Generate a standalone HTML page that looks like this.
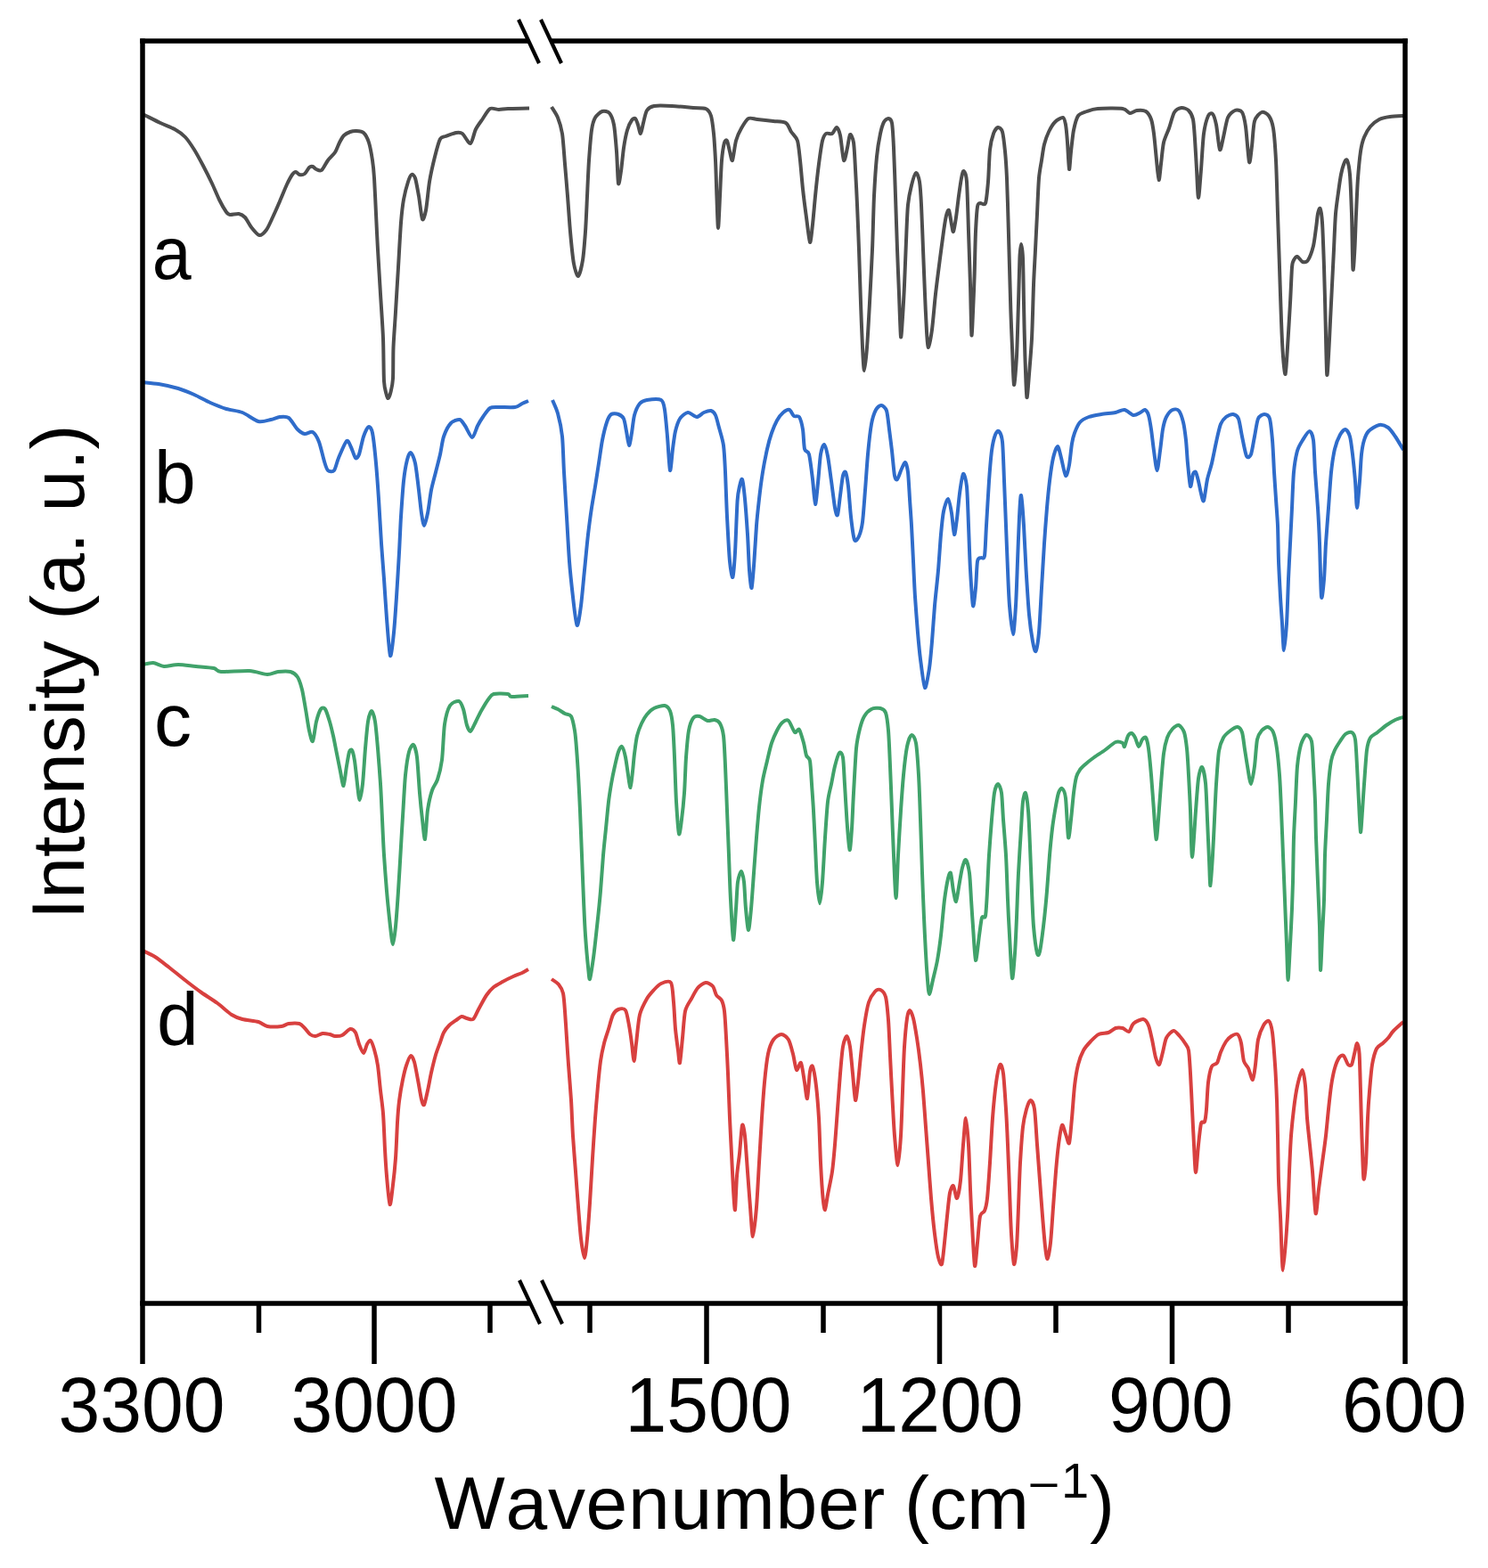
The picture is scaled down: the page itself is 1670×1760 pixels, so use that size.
<!DOCTYPE html><html><head><meta charset="utf-8"><title>IR spectra</title>
<style>html,body{margin:0;padding:0;background:#fff;}svg{display:block;}text{font-family:"Liberation Sans",Arial,sans-serif;fill:#000;font-kerning:none;font-feature-settings:"kern" 0;}</style></head><body>
<svg width="1670" height="1760" viewBox="0 0 1670 1760">
<rect width="1670" height="1760" fill="#fff"/>
<g fill="none" stroke-width="4.0" stroke-linejoin="round" stroke-linecap="butt">
<path stroke="#4d4d4d" d="M160,128C162.7,129.3 175.2,135.7 180,138C184.8,140.3 192.3,142.9 196,145C199.7,147.1 205.1,150.9 208,154C210.9,157.1 215.3,163.7 218,168C220.7,172.3 225.3,180.9 228,186C230.7,191.1 235.6,200.9 238,206C240.4,211.1 243.9,219.7 246,224C248.1,228.3 252.4,235.7 254,238C255.6,240.3 256.1,240.7 258,241C259.9,241.3 265.7,239.6 268,240C270.3,240.4 273.1,242.0 275,244C276.9,246.0 279.9,252.3 282,255C284.1,257.7 288.7,263.6 291,264C293.3,264.4 297.0,260.7 299,258C301.0,255.3 304.0,248.3 306,244C308.0,239.7 311.9,230.9 314,226C316.1,221.1 320.1,211.0 322,207C323.9,203.0 326.7,197.9 328,196C329.3,194.1 330.9,193.0 332,193C333.1,193.0 334.7,195.7 336,196C337.3,196.3 340.5,196.1 342,195C343.5,193.9 345.8,189.1 347,188C348.2,186.9 349.9,186.7 351,187C352.1,187.3 353.7,189.5 355,190C356.3,190.5 359.3,192.3 361,191C362.7,189.7 366.0,182.7 368,180C370.0,177.3 374.3,173.7 376,171C377.7,168.3 379.7,162.5 381,160C382.3,157.5 384.4,153.6 386,152C387.6,150.4 391.1,148.7 393,148C394.9,147.3 398.0,146.9 400,147C402.0,147.1 406.1,147.3 408,149C409.9,150.7 412.7,155.9 414,160C415.3,164.1 417.2,174.7 418,180C418.8,185.3 419.5,192.0 420,200C420.5,208.0 421.5,229.3 422,240C422.5,250.7 423.3,268.0 424,280C424.7,292.0 426.2,316.7 427,330C427.8,343.3 429.5,366.9 430,380C430.5,393.1 430.5,419.7 431,428C431.5,436.3 432.9,439.5 433.5,442C434.1,444.5 435.0,447.3 435.7,447C436.4,446.7 437.8,442.9 438.5,440C439.2,437.1 440.6,431.7 441,425C441.4,418.3 441.1,400.0 441.5,390C441.9,380.0 443.3,362.0 444,350C444.7,338.0 446.2,313.3 447,300C447.8,286.7 449.2,260.1 450,250C450.8,239.9 451.9,230.1 453,224C454.1,217.9 456.8,207.7 458,204C459.2,200.3 460.9,196.5 462,196C463.1,195.5 464.9,196.8 466,200C467.1,203.2 468.9,213.9 470,220C471.1,226.1 472.9,243.9 474,246C475.1,248.1 476.9,241.6 478,236C479.1,230.4 480.7,212.0 482,204C483.3,196.0 486.4,182.4 488,176C489.6,169.6 492.4,159.1 494,156C495.6,152.9 497.6,153.9 500,153C502.4,152.1 509.5,149.4 512,149C514.5,148.6 516.9,148.4 519,150C521.1,151.6 526.0,161.7 528,161C530.0,160.3 532.1,148.7 534,145C535.9,141.3 539.9,136.1 542,133C544.1,129.9 547.6,123.3 550,122C552.4,120.7 557.3,123.0 560,123C562.7,123.0 565.5,122.2 570,122C574.5,121.8 590.8,121.7 594,121.6"/>
<path stroke="#4d4d4d" d="M619,120C619.9,121.6 624.4,128.0 626,132C627.6,136.0 629.9,143.1 631,150C632.1,156.9 633.2,174.7 634,184C634.8,193.3 636.2,209.9 637,220C637.8,230.1 639.1,249.9 640,260C640.9,270.1 642.8,289.3 644,296C645.2,302.7 647.7,310.5 649,310C650.3,309.5 652.9,298.7 654,292C655.1,285.3 656.3,269.6 657,260C657.7,250.4 658.5,230.7 659,220C659.5,209.3 660.3,189.9 661,180C661.7,170.1 663.1,152.4 664,146C664.9,139.6 666.4,134.8 668,132C669.6,129.2 673.9,125.7 676,125C678.1,124.3 682.3,125.0 684,127C685.7,129.0 687.9,134.3 689,140C690.1,145.7 691.3,161.2 692,170C692.7,178.8 693.3,203.1 694,206C694.7,208.9 696.2,197.3 697,192C697.8,186.7 699.1,172.1 700,166C700.9,159.9 702.8,150.1 704,146C705.2,141.9 707.8,136.7 709,135C710.2,133.3 712.1,132.3 713,133C713.9,133.7 715.2,137.7 716,140C716.8,142.3 718.2,150.3 719,150C719.8,149.7 721.1,141.5 722,138C722.9,134.5 724.4,126.5 726,124C727.6,121.5 730.3,119.7 734,119C737.7,118.3 748.1,118.7 754,119C759.9,119.3 772.9,120.6 778,121C783.1,121.4 789.3,120.8 792,122C794.7,123.2 796.8,126.3 798,130C799.2,133.7 800.3,143.3 801,150C801.7,156.7 802.5,170.7 803,180C803.5,189.3 804.0,209.9 804.4,220C804.8,230.1 805.5,256.0 806,256C806.5,256.0 807.5,230.1 808,220C808.5,209.9 809.3,188.0 810,180C810.7,172.0 812.2,162.9 813,160C813.8,157.1 815.2,156.7 816,158C816.8,159.3 818.2,167.1 819,170C819.8,172.9 821.1,181.6 822,180C822.9,178.4 824.7,162.8 826,158C827.3,153.2 830.1,147.3 832,144C833.9,140.7 837.6,134.3 840,133C842.4,131.7 846.3,133.6 850,134C853.7,134.4 863.7,135.5 868,136C872.3,136.5 879.3,136.4 882,138C884.7,139.6 886.3,145.3 888,148C889.7,150.7 893.7,153.7 895,158C896.3,162.3 897.2,172.8 898,180C898.8,187.2 900.1,203.5 901,212C901.9,220.5 903.9,236.0 905,244C906.1,252.0 908.1,270.9 909,272C909.9,273.1 911.2,258.9 912,252C912.8,245.1 914.1,229.1 915,220C915.9,210.9 917.9,192.3 919,184C920.1,175.7 921.9,162.5 923,158C924.1,153.5 925.5,151.1 927,150C928.5,148.9 932.4,150.9 934,150C935.6,149.1 937.8,142.7 939,143C940.2,143.3 941.9,147.1 943,152C944.1,156.9 945.9,178.1 947,180C948.1,181.9 950.1,169.9 951,166C951.9,162.1 953.1,151.8 954,151C954.9,150.2 957.2,154.8 958,160C958.8,165.2 959.5,180.7 960,190C960.5,199.3 961.5,218.0 962,230C962.5,242.0 963.5,265.3 964,280C964.5,294.7 965.5,325.3 966,340C966.5,354.7 967.5,379.9 968,390C968.5,400.1 969.3,416.0 970,416C970.7,416.0 972.2,400.1 973,390C973.8,379.9 975.2,354.7 976,340C976.8,325.3 978.3,296.0 979,280C979.7,264.0 980.3,233.9 981,220C981.7,206.1 983.1,185.3 984,176C984.9,166.7 986.9,155.2 988,150C989.1,144.8 990.8,139.3 992,137C993.2,134.7 995.8,132.9 997,133C998.2,133.1 1000.2,133.6 1001,138C1001.8,142.4 1002.5,155.1 1003,166C1003.5,176.9 1004.5,204.8 1005,220C1005.5,235.2 1006.5,265.3 1007,280C1007.5,294.7 1008.5,316.9 1009,330C1009.5,343.1 1010.5,374.5 1011,378C1011.5,381.5 1012.5,363.7 1013,356C1013.5,348.3 1014.5,331.5 1015,320C1015.5,308.5 1016.5,282.0 1017,270C1017.5,258.0 1018.2,238.3 1019,230C1019.8,221.7 1021.8,212.8 1023,208C1024.2,203.2 1026.8,194.5 1028,194C1029.2,193.5 1031.2,199.2 1032,204C1032.8,208.8 1033.5,219.9 1034,230C1034.5,240.1 1035.5,266.7 1036,280C1036.5,293.3 1037.5,317.7 1038,330C1038.5,342.3 1039.5,364.0 1040,372C1040.5,380.0 1041.2,390.3 1042,390C1042.8,389.7 1044.9,378.0 1046,370C1047.1,362.0 1048.8,340.7 1050,330C1051.2,319.3 1053.8,299.3 1055,290C1056.2,280.7 1058.1,266.4 1059,260C1059.9,253.6 1061.2,245.2 1062,242C1062.8,238.8 1064.2,234.7 1065,236C1065.8,237.3 1067.3,248.8 1068,252C1068.7,255.2 1069.3,261.1 1070,260C1070.7,258.9 1072.2,249.3 1073,244C1073.8,238.7 1075.2,225.9 1076,220C1076.8,214.1 1078.3,203.7 1079,200C1079.7,196.3 1080.8,191.5 1081.6,192C1082.4,192.5 1084.3,194.9 1085,204C1085.7,213.1 1086.5,244.5 1087,260C1087.5,275.5 1088.5,304.5 1089,320C1089.5,335.5 1090.0,372.0 1090.4,376C1090.8,380.0 1091.6,358.8 1092,350C1092.4,341.2 1093.2,322.0 1093.6,310C1094.0,298.0 1094.5,270.4 1095,260C1095.5,249.6 1096.3,236.3 1097,232C1097.7,227.7 1098.8,228.5 1100,228C1101.2,227.5 1104.8,231.2 1106,228C1107.2,224.8 1108.3,212.0 1109,204C1109.7,196.0 1110.2,175.2 1111,168C1111.8,160.8 1113.8,153.3 1115,150C1116.2,146.7 1118.7,143.3 1120,143C1121.3,142.7 1123.9,144.4 1125,148C1126.1,151.6 1127.3,163.1 1128,170C1128.7,176.9 1129.5,189.3 1130,200C1130.5,210.7 1131.2,236.7 1131.6,250C1132.0,263.3 1132.6,286.7 1133,300C1133.4,313.3 1134.0,338.0 1134.4,350C1134.8,362.0 1135.5,379.1 1136,390C1136.5,400.9 1137.3,430.7 1138,432C1138.7,433.3 1140.3,412.3 1141,400C1141.7,387.7 1142.5,354.7 1143,340C1143.5,325.3 1144.0,298.8 1144.4,290C1144.8,281.2 1145.5,274.0 1146,274C1146.5,274.0 1147.6,281.2 1148,290C1148.4,298.8 1148.7,325.3 1149,340C1149.3,354.7 1149.9,385.9 1150.4,400C1150.9,414.1 1151.8,443.3 1152.4,446C1153.0,448.7 1154.3,428.8 1155,420C1155.7,411.2 1157.3,393.3 1158,380C1158.7,366.7 1159.5,333.3 1160,320C1160.5,306.7 1161.5,290.7 1162,280C1162.5,269.3 1163.5,250.7 1164,240C1164.5,229.3 1165.3,208.0 1166,200C1166.7,192.0 1168.2,185.1 1169,180C1169.8,174.9 1170.9,166.3 1172,162C1173.1,157.7 1175.4,151.3 1177,148C1178.6,144.7 1181.9,139.1 1184,137C1186.1,134.9 1191.4,131.6 1193,132C1194.6,132.4 1195.3,136.3 1196,140C1196.7,143.7 1197.5,153.3 1198,160C1198.5,166.7 1199.5,188.7 1200,190C1200.5,191.3 1201.3,175.9 1202,170C1202.7,164.1 1203.9,151.3 1205,146C1206.1,140.7 1208.0,132.8 1210,130C1212.0,127.2 1217.1,126.1 1220,125C1222.9,123.9 1226.7,122.4 1232,122C1237.3,121.6 1255.2,121.3 1260,122C1264.8,122.7 1265.9,126.7 1268,127C1270.1,127.3 1273.6,124.3 1276,124C1278.4,123.7 1283.9,123.7 1286,125C1288.1,126.3 1290.8,130.7 1292,134C1293.2,137.3 1294.2,143.9 1295,150C1295.8,156.1 1297.3,173.1 1298,180C1298.7,186.9 1299.9,201.5 1300.6,202C1301.3,202.5 1302.3,189.6 1303,184C1303.7,178.4 1304.8,165.3 1306,160C1307.2,154.7 1310.4,148.5 1312,144C1313.6,139.5 1316.1,129.1 1318,126C1319.9,122.9 1323.9,121.3 1326,121C1328.1,120.7 1332.3,122.3 1334,124C1335.7,125.7 1338.1,129.7 1339,134C1339.9,138.3 1340.5,148.5 1341,156C1341.5,163.5 1342.5,181.2 1343,190C1343.5,198.8 1344.3,222.0 1345,222C1345.7,222.0 1347.2,199.6 1348,190C1348.8,180.4 1349.9,158.0 1351,150C1352.1,142.0 1354.7,132.9 1356,130C1357.3,127.1 1359.8,126.7 1361,128C1362.2,129.3 1363.9,134.7 1365,140C1366.1,145.3 1367.9,166.1 1369,168C1370.1,169.9 1371.8,158.8 1373,154C1374.2,149.2 1376.3,136.0 1378,132C1379.7,128.0 1383.9,124.8 1386,124C1388.1,123.2 1392.4,123.6 1394,126C1395.6,128.4 1396.9,134.5 1398,142C1399.1,149.5 1401.1,179.1 1402,182C1402.9,184.9 1404.2,170.1 1405,164C1405.8,157.9 1406.5,141.1 1408,136C1409.5,130.9 1413.9,126.8 1416,126C1418.1,125.2 1422.3,127.6 1424,130C1425.7,132.4 1427.9,137.3 1429,144C1430.1,150.7 1431.3,167.2 1432,180C1432.7,192.8 1433.5,224.0 1434,240C1434.5,256.0 1435.5,284.0 1436,300C1436.5,316.0 1437.5,346.7 1438,360C1438.5,373.3 1439.4,392.0 1440,400C1440.6,408.0 1441.9,421.3 1442.6,420C1443.3,418.7 1444.3,400.7 1445,390C1445.7,379.3 1447.3,352.0 1448,340C1448.7,328.0 1449.5,306.4 1450,300C1450.5,293.6 1451.2,293.6 1452,292C1452.8,290.4 1454.7,287.7 1456,288C1457.3,288.3 1460.4,293.5 1462,294C1463.6,294.5 1466.4,294.4 1468,292C1469.6,289.6 1472.8,280.8 1474,276C1475.2,271.2 1476.3,260.8 1477,256C1477.7,251.2 1478.4,242.9 1479,240C1479.6,237.1 1480.9,232.7 1481.6,234C1482.3,235.3 1483.4,241.2 1484,250C1484.6,258.8 1485.5,285.3 1486,300C1486.5,314.7 1487.2,344.0 1487.6,360C1488.0,376.0 1488.7,414.7 1489.2,420C1489.7,425.3 1490.5,408.0 1491,400C1491.5,392.0 1492.5,370.7 1493,360C1493.5,349.3 1494.5,330.7 1495,320C1495.5,309.3 1496.5,290.7 1497,280C1497.5,269.3 1498.3,248.5 1499,240C1499.7,231.5 1501.2,221.9 1502,216C1502.8,210.1 1504.1,200.5 1505,196C1505.9,191.5 1508.1,184.1 1509,182C1509.9,179.9 1511.2,178.1 1512,180C1512.8,181.9 1514.3,188.0 1515,196C1515.7,204.0 1516.5,225.9 1517,240C1517.5,254.1 1517.9,296.7 1518.4,302C1518.9,307.3 1519.9,288.3 1520.4,280C1520.9,271.7 1521.5,250.7 1522,240C1522.5,229.3 1523.3,209.3 1524,200C1524.7,190.7 1526.1,176.1 1527,170C1527.9,163.9 1529.5,157.7 1531,154C1532.5,150.3 1535.7,144.7 1538,142C1540.3,139.3 1545.1,135.5 1548,134C1550.9,132.5 1556.4,131.5 1560,131C1563.6,130.5 1573.0,130.1 1575,130"/>
<path stroke="#2f6cca" d="M160,429C162.4,429.3 172.7,430.1 178,431C183.3,431.9 194.7,434.4 200,436C205.3,437.6 213.2,440.9 218,443C222.8,445.1 231.2,449.9 236,452C240.8,454.1 249.2,457.5 254,459C258.8,460.5 267.2,461.1 272,463C276.8,464.9 285.7,471.9 290,473C294.3,474.1 300.8,471.7 304,471C307.2,470.3 311.3,468.3 314,468C316.7,467.7 321.3,467.1 324,469C326.7,470.9 331.6,479.6 334,482C336.4,484.4 339.7,486.6 342,487C344.3,487.4 348.9,483.8 351,485C353.1,486.2 356.3,491.6 358,496C359.7,500.4 362.7,513.7 364,518C365.3,522.3 366.5,526.7 368,528C369.5,529.3 373.4,529.9 375,528C376.6,526.1 378.1,518.4 380,514C381.9,509.6 387.1,496.6 389,495C390.9,493.4 392.7,499.5 394,502C395.3,504.5 397.8,512.9 399,514C400.2,515.1 401.8,513.2 403,510C404.2,506.8 406.6,494.1 408,490C409.4,485.9 412.3,479.5 413.6,479C414.9,478.5 416.9,480.5 418,486C419.1,491.5 421.1,510.1 422,520C422.9,529.9 424.2,548.0 425,560C425.8,572.0 427.2,598.0 428,610C428.8,622.0 430.2,638.8 431,650C431.8,661.2 433.1,682.5 434,694C434.9,705.5 436.9,733.9 438,736C439.1,738.1 441.1,718.8 442,710C442.9,701.2 444.2,682.0 445,670C445.8,658.0 447.3,632.0 448,620C448.7,608.0 449.3,590.7 450,580C450.7,569.3 452.1,548.5 453,540C453.9,531.5 455.9,520.3 457,516C458.1,511.7 459.8,507.5 461,508C462.2,508.5 464.8,514.4 466,520C467.2,525.6 469.1,542.5 470,550C470.9,557.5 472.2,570.7 473,576C473.8,581.3 475.1,590.0 476,590C476.9,590.0 478.9,581.3 480,576C481.1,570.7 482.8,556.1 484,550C485.2,543.9 487.7,535.3 489,530C490.3,524.7 492.8,515.3 494,510C495.2,504.7 496.4,494.7 498,490C499.6,485.3 503.6,477.5 506,475C508.4,472.5 513.9,470.6 516,471C518.1,471.4 520.1,475.3 522,478C523.9,480.7 528.1,491.0 530,491C531.9,491.0 534.4,481.1 536,478C537.6,474.9 540.1,470.7 542,468C543.9,465.3 547.6,459.5 550,458C552.4,456.5 556.3,457.1 560,457C563.7,456.9 574.5,457.5 578,457C581.5,456.5 584.0,453.9 586,453C588.0,452.1 592.1,450.4 593,450"/>
<path stroke="#2f6cca" d="M620,449C620.8,451.0 624.5,458.5 626,464C627.5,469.5 630.1,481.2 631,490C631.9,498.8 632.3,518.0 633,530C633.7,542.0 635.2,566.7 636,580C636.8,593.3 638.1,618.0 639,630C639.9,642.0 641.9,660.4 643,670C644.1,679.6 646.4,700.7 647.6,702C648.8,703.3 650.9,688.3 652,680C653.1,671.7 654.9,650.7 656,640C657.1,629.3 658.9,609.3 660,600C661.1,590.7 662.9,577.2 664,570C665.1,562.8 666.9,552.7 668,546C669.1,539.3 670.9,526.9 672,520C673.1,513.1 674.8,500.1 676,494C677.2,487.9 679.7,477.9 681,474C682.3,470.1 684.3,466.2 686,465C687.7,463.8 692.1,464.3 694,465C695.9,465.7 698.8,467.5 700,470C701.2,472.5 702.2,480.0 703,484C703.8,488.0 705.2,499.7 706,500C706.8,500.3 708.2,490.5 709,486C709.8,481.5 710.8,470.4 712,466C713.2,461.6 716.1,455.3 718,453C719.9,450.7 722.8,449.5 726,449C729.2,448.5 739.3,447.5 742,449C744.7,450.5 745.1,454.5 746,460C746.9,465.5 748.2,480.9 749,490C749.8,499.1 751.2,526.1 752,528C752.8,529.9 754.2,509.9 755,504C755.8,498.1 756.9,488.5 758,484C759.1,479.5 761.1,472.8 763,470C764.9,467.2 769.5,463.3 772,463C774.5,462.7 779.6,468.0 782,468C784.4,468.0 787.9,463.9 790,463C792.1,462.1 796.3,460.6 798,461C799.7,461.4 801.8,463.5 803,466C804.2,468.5 805.8,475.5 807,480C808.2,484.5 811.1,493.3 812,500C812.9,506.7 813.5,519.3 814,530C814.5,540.7 815.3,566.7 816,580C816.7,593.3 818.1,620.9 819,630C819.9,639.1 821.6,649.3 822.4,648C823.2,646.7 824.3,631.5 825,620C825.7,608.5 826.9,571.9 827.6,562C828.3,552.1 829.3,549.2 830,546C830.7,542.8 832.2,536.1 833,538C833.8,539.9 835.2,551.7 836,560C836.8,568.3 838.3,589.3 839,600C839.7,610.7 840.4,632.0 841,640C841.6,648.0 842.9,661.3 843.6,660C844.3,658.7 845.7,639.3 846.4,630C847.1,620.7 848.3,599.3 849,590C849.7,580.7 851.1,568.0 852,560C852.9,552.0 854.8,537.5 856,530C857.2,522.5 859.7,509.9 861,504C862.3,498.1 864.5,490.3 866,486C867.5,481.7 870.3,475.1 872,472C873.7,468.9 877.1,464.6 879,463C880.9,461.4 884.4,459.5 886,460C887.6,460.5 889.5,465.9 891,467C892.5,468.1 895.7,466.0 897,468C898.3,470.0 900.2,477.2 901,482C901.8,486.8 902.1,500.3 903,504C903.9,507.7 906.8,505.5 908,510C909.2,514.5 911.1,530.5 912,538C912.9,545.5 914.2,565.5 915,566C915.8,566.5 917.2,549.5 918,542C918.8,534.5 920.1,515.7 921,510C921.9,504.3 923.9,498.7 925,499C926.1,499.3 927.9,506.5 929,512C930.1,517.5 931.9,532.3 933,540C934.1,547.7 936.1,564.9 937,570C937.9,575.1 939.2,579.9 940,578C940.8,576.1 942.2,561.9 943,556C943.8,550.1 945.2,537.5 946,534C946.8,530.5 948.2,528.4 949,530C949.8,531.6 951.2,539.3 952,546C952.8,552.7 954.1,572.0 955,580C955.9,588.0 957.8,603.1 959,606C960.2,608.9 962.8,604.7 964,602C965.2,599.3 967.1,592.9 968,586C968.9,579.1 970.2,560.1 971,550C971.8,539.9 973.1,519.9 974,510C974.9,500.1 976.8,482.7 978,476C979.2,469.3 981.5,462.8 983,460C984.5,457.2 987.4,454.9 989,455C990.6,455.1 993.8,457.4 995,461C996.2,464.6 997.2,476.0 998,482C998.8,488.0 1000.2,499.1 1001,506C1001.8,512.9 1003.2,529.7 1004,534C1004.8,538.3 1005.9,539.1 1007,538C1008.1,536.9 1010.8,528.5 1012,526C1013.2,523.5 1015.1,518.5 1016,519C1016.9,519.5 1018.3,524.5 1019,530C1019.7,535.5 1020.5,552.0 1021,560C1021.5,568.0 1022.5,580.7 1023,590C1023.5,599.3 1024.5,619.3 1025,630C1025.5,640.7 1026.3,659.3 1027,670C1027.7,680.7 1029.2,700.7 1030,710C1030.8,719.3 1031.9,731.7 1033,740C1034.1,748.3 1036.7,770.7 1038,772C1039.3,773.3 1041.9,756.9 1043,750C1044.1,743.1 1045.2,729.3 1046,720C1046.8,710.7 1048.1,690.7 1049,680C1049.9,669.3 1052.1,650.7 1053,640C1053.9,629.3 1055.2,608.8 1056,600C1056.8,591.2 1057.9,579.3 1059,574C1060.1,568.7 1062.8,559.7 1064,560C1065.2,560.3 1067.1,570.7 1068,576C1068.9,581.3 1070.2,599.2 1071,600C1071.8,600.8 1073.2,588.1 1074,582C1074.8,575.9 1076.1,560.7 1077,554C1077.9,547.3 1079.9,533.1 1081,532C1082.1,530.9 1084.2,538.3 1085,546C1085.8,553.7 1086.5,577.5 1087,590C1087.5,602.5 1088.3,628.0 1089,640C1089.7,652.0 1091.2,677.3 1092,680C1092.8,682.7 1094.3,666.7 1095,660C1095.7,653.3 1096.2,634.5 1097,630C1097.8,625.5 1099.9,626.8 1101,626C1102.1,625.2 1104.2,628.8 1105,624C1105.8,619.2 1106.3,601.2 1107,590C1107.7,578.8 1109.2,551.2 1110,540C1110.8,528.8 1112.1,512.9 1113,506C1113.9,499.1 1115.9,490.9 1117,488C1118.1,485.1 1119.9,482.9 1121,484C1122.1,485.1 1124.2,488.5 1125,496C1125.8,503.5 1126.5,527.5 1127,540C1127.5,552.5 1128.5,576.7 1129,590C1129.5,603.3 1130.5,628.0 1131,640C1131.5,652.0 1132.2,670.4 1133,680C1133.8,689.6 1136.1,712.0 1137,712C1137.9,712.0 1139.3,690.9 1140,680C1140.7,669.1 1141.5,643.3 1142,630C1142.5,616.7 1143.5,589.9 1144,580C1144.5,570.1 1145.3,554.7 1146,556C1146.7,557.3 1148.3,578.8 1149,590C1149.7,601.2 1150.8,626.7 1151.6,640C1152.4,653.3 1154.0,679.3 1155,690C1156.0,700.7 1158.0,714.5 1159,720C1160.0,725.5 1161.5,732.3 1162.4,731C1163.3,729.7 1165.1,719.5 1166,710C1166.9,700.5 1168.2,673.3 1169,660C1169.8,646.7 1171.2,622.0 1172,610C1172.8,598.0 1174.2,579.3 1175,570C1175.8,560.7 1177.1,547.5 1178,540C1178.9,532.5 1180.8,519.2 1182,514C1183.2,508.8 1185.8,501.0 1187,501C1188.2,501.0 1189.8,509.6 1191,514C1192.2,518.4 1194.8,532.9 1196,534C1197.2,535.1 1199.1,526.8 1200,522C1200.9,517.2 1202.2,502.8 1203,498C1203.8,493.2 1204.8,489.2 1206,486C1207.2,482.8 1209.9,476.4 1212,474C1214.1,471.6 1218.8,469.2 1222,468C1225.2,466.8 1232.0,465.7 1236,465C1240.0,464.3 1248.5,463.7 1252,463C1255.5,462.3 1259.3,459.6 1262,460C1264.7,460.4 1269.6,465.6 1272,466C1274.4,466.4 1278.3,463.8 1280,463C1281.7,462.2 1283.8,459.6 1285,460C1286.2,460.4 1288.1,463.1 1289,466C1289.9,468.9 1291.2,476.7 1292,482C1292.8,487.3 1294.1,499.9 1295,506C1295.9,512.1 1297.7,528.0 1298.6,528C1299.5,528.0 1301.1,512.1 1302,506C1302.9,499.9 1304.1,487.1 1305,482C1305.9,476.9 1307.5,470.9 1309,468C1310.5,465.1 1314.1,460.9 1316,460C1317.9,459.1 1321.4,459.1 1323,461C1324.6,462.9 1326.9,469.6 1328,474C1329.1,478.4 1330.3,487.9 1331,494C1331.7,500.1 1332.3,513.1 1333,520C1333.7,526.9 1335.2,544.4 1336,546C1336.8,547.6 1338.2,534.1 1339,532C1339.8,529.9 1341.2,528.9 1342,530C1342.8,531.1 1344.2,536.8 1345,540C1345.8,543.2 1347.2,551.1 1348,554C1348.8,556.9 1350.1,564.1 1351,562C1351.9,559.9 1353.8,543.6 1355,538C1356.2,532.4 1358.7,525.6 1360,520C1361.3,514.4 1363.7,501.9 1365,496C1366.3,490.1 1368.5,479.7 1370,476C1371.5,472.3 1374.1,469.5 1376,468C1377.9,466.5 1382.1,464.7 1384,465C1385.9,465.3 1388.7,466.7 1390,470C1391.3,473.3 1392.8,484.4 1394,490C1395.2,495.6 1397.7,509.3 1399,512C1400.3,514.7 1402.8,512.9 1404,510C1405.2,507.1 1406.9,495.3 1408,490C1409.1,484.7 1410.5,473.3 1412,470C1413.5,466.7 1417.3,465.0 1419,465C1420.7,465.0 1423.8,466.1 1425,470C1426.2,473.9 1427.3,486.0 1428,494C1428.7,502.0 1429.5,521.2 1430,530C1430.5,538.8 1431.5,552.0 1432,560C1432.5,568.0 1433.6,580.7 1434,590C1434.4,599.3 1434.6,619.3 1435,630C1435.4,640.7 1436.5,660.7 1437,670C1437.5,679.3 1438.5,692.0 1439,700C1439.5,708.0 1440.3,730.0 1441,730C1441.7,730.0 1443.3,710.7 1444,700C1444.7,689.3 1445.5,662.0 1446,650C1446.5,638.0 1447.5,620.7 1448,610C1448.5,599.3 1449.5,580.7 1450,570C1450.5,559.3 1451.2,538.5 1452,530C1452.8,521.5 1454.7,510.8 1456,506C1457.3,501.2 1460.2,496.9 1462,494C1463.8,491.1 1468.0,484.0 1469.6,484C1471.2,484.0 1473.1,487.9 1474,494C1474.9,500.1 1475.3,519.9 1476,530C1476.7,540.1 1478.3,559.3 1479,570C1479.7,580.7 1480.5,596.7 1481,610C1481.5,623.3 1482.3,664.7 1483,670C1483.7,675.3 1485.3,658.0 1486,650C1486.7,642.0 1487.3,620.7 1488,610C1488.7,599.3 1490.2,580.7 1491,570C1491.8,559.3 1493.1,538.8 1494,530C1494.9,521.2 1496.7,509.6 1498,504C1499.3,498.4 1502.4,490.9 1504,488C1505.6,485.1 1508.5,481.7 1510,482C1511.5,482.3 1513.9,486.3 1515,490C1516.1,493.7 1517.2,503.3 1518,510C1518.8,516.7 1520.3,532.0 1521,540C1521.7,548.0 1522.3,570.0 1523,570C1523.7,570.0 1525.3,548.0 1526,540C1526.7,532.0 1527.3,516.1 1528,510C1528.7,503.9 1529.9,497.5 1531,494C1532.1,490.5 1533.7,486.3 1536,484C1538.3,481.7 1545.1,477.5 1548,477C1550.9,476.5 1555.6,478.3 1558,480C1560.4,481.7 1563.7,486.7 1566,490C1568.3,493.3 1573.8,503.0 1575,505"/>
<path stroke="#40a26a" d="M160,746C161.6,745.7 168.8,743.7 172,744C175.2,744.3 180.3,747.7 184,748C187.7,748.3 195.2,746.0 200,746C204.8,746.0 214.7,747.5 220,748C225.3,748.5 236.3,749.2 240,750C243.7,750.8 242.7,753.6 248,754C253.3,754.4 273.1,752.6 280,753C286.9,753.4 295.7,756.9 300,757C304.3,757.1 308.5,754.4 312,754C315.5,753.6 323.1,753.2 326,754C328.9,754.8 332.3,757.3 334,760C335.7,762.7 337.8,769.2 339,774C340.2,778.8 341.9,789.9 343,796C344.1,802.1 345.9,815.2 347,820C348.1,824.8 349.9,833.3 351,832C352.1,830.7 353.8,814.8 355,810C356.2,805.2 358.7,797.9 360,796C361.3,794.1 363.7,794.1 365,796C366.3,797.9 368.8,806.0 370,810C371.2,814.0 372.9,821.2 374,826C375.1,830.8 376.9,840.7 378,846C379.1,851.3 381.0,861.2 382,866C383.0,870.8 384.7,882.8 385.6,882C386.5,881.2 388.1,865.1 389,860C389.9,854.9 391.2,846.4 392,844C392.8,841.6 394.2,840.7 395,842C395.8,843.3 397.2,848.9 398,854C398.8,859.1 400.3,874.1 401,880C401.7,885.9 402.8,898.0 403.6,898C404.4,898.0 406.1,887.7 407,880C407.9,872.3 409.2,849.3 410,840C410.8,830.7 412.1,815.6 413,810C413.9,804.4 415.9,798.0 417,798C418.1,798.0 420.1,804.4 421,810C421.9,815.6 423.2,830.7 424,840C424.8,849.3 426.3,869.3 427,880C427.7,890.7 428.5,909.3 429,920C429.5,930.7 430.3,949.3 431,960C431.7,970.7 433.1,989.3 434,1000C434.9,1010.7 437.1,1032.0 438,1040C438.9,1048.0 440.2,1060.0 441,1060C441.8,1060.0 443.2,1048.0 444,1040C444.8,1032.0 446.2,1012.0 447,1000C447.8,988.0 449.3,962.0 450,950C450.7,938.0 451.7,920.7 452.4,910C453.1,899.3 454.1,878.8 455,870C455.9,861.2 457.8,848.5 459,844C460.2,839.5 462.8,835.2 464,836C465.2,836.8 467.1,842.8 468,850C468.9,857.2 470.2,880.7 471,890C471.8,899.3 473.2,913.1 474,920C474.8,926.9 476.2,943.5 477,942C477.8,940.5 478.9,916.3 480,909C481.1,901.7 483.5,891.5 485,887C486.5,882.5 489.5,879.5 491,875C492.5,870.5 494.9,861.3 496,853C497.1,844.7 497.8,821.1 499,813C500.2,804.9 502.9,795.5 505,792C507.1,788.5 513.0,786.5 515,787C517.0,787.5 518.8,792.4 520,796C521.2,799.6 522.9,810.7 524,814C525.1,817.3 526.7,821.5 528,821C529.3,820.5 532.4,813.1 534,810C535.6,806.9 538.1,801.3 540,798C541.9,794.7 546.1,787.5 548,785C549.9,782.5 551.1,779.8 554,779C556.9,778.2 567.3,778.6 570,779C572.7,779.4 570.9,781.7 574,782C577.1,782.3 590.5,781.1 593,781"/>
<path stroke="#40a26a" d="M619,793C619.9,793.4 624.0,794.9 626,796C628.0,797.1 632.0,799.9 634,801C636.0,802.1 639.5,801.5 641,804C642.5,806.5 644.2,815.2 645,820C645.8,824.8 646.5,833.3 647,840C647.5,846.7 648.5,860.7 649,870C649.5,879.3 650.5,898.0 651,910C651.5,922.0 652.5,946.7 653,960C653.5,973.3 654.5,998.0 655,1010C655.5,1022.0 656.3,1040.0 657,1050C657.7,1060.0 659.3,1078.5 660,1085C660.7,1091.5 661.2,1100.3 662,1099C662.8,1097.7 664.9,1082.9 666,1075C667.1,1067.1 668.9,1050.0 670,1040C671.1,1030.0 673.1,1010.7 674,1000C674.9,989.3 676.2,969.3 677,960C677.8,950.7 679.2,938.0 680,930C680.8,922.0 682.2,906.7 683,900C683.8,893.3 685.1,885.3 686,880C686.9,874.7 688.9,864.8 690,860C691.1,855.2 692.9,846.9 694,844C695.1,841.1 696.9,837.2 698,838C699.1,838.8 701.1,845.7 702,850C702.9,854.3 704.3,865.5 705,870C705.7,874.5 706.9,884.5 707.6,884C708.3,883.5 709.4,871.1 710,866C710.6,860.9 711.3,851.3 712,846C712.7,840.7 713.9,830.5 715,826C716.1,821.5 718.5,815.2 720,812C721.5,808.8 724.1,804.3 726,802C727.9,799.7 731.3,796.3 734,795C736.7,793.7 743.6,791.6 746,792C748.4,792.4 750.8,795.1 752,798C753.2,800.9 754.3,807.1 755,814C755.7,820.9 756.5,838.5 757,850C757.5,861.5 758.3,888.5 759,900C759.7,911.5 761.2,933.3 762,936C762.8,938.7 764.2,926.1 765,920C765.8,913.9 767.3,899.3 768,890C768.7,880.7 769.3,859.3 770,850C770.7,840.7 771.9,825.9 773,820C774.1,814.1 776.4,808.1 778,806C779.6,803.9 782.9,803.6 785,804C787.1,804.4 791.7,808.5 794,809C796.3,809.5 800.1,807.6 802,808C803.9,808.4 806.7,809.6 808,812C809.3,814.4 811.2,819.6 812,826C812.8,832.4 813.5,848.8 814,860C814.5,871.2 815.5,896.7 816,910C816.5,923.3 817.5,946.7 818,960C818.5,973.3 819.3,997.3 820,1010C820.7,1022.7 822.2,1053.7 823,1055C823.8,1056.3 825.3,1028.7 826,1020C826.7,1011.3 827.2,995.6 828,990C828.8,984.4 831.1,978.0 832,978C832.9,978.0 834.3,984.4 835,990C835.7,995.6 836.3,1012.8 837,1020C837.7,1027.2 839.2,1044.0 840,1044C840.8,1044.0 842.2,1028.5 843,1020C843.8,1011.5 845.2,990.7 846,980C846.8,969.3 848.2,949.9 849,940C849.8,930.1 851.1,914.5 852,906C852.9,897.5 854.8,882.9 856,876C857.2,869.1 859.7,859.6 861,854C862.3,848.4 864.5,838.5 866,834C867.5,829.5 870.4,823.1 872,820C873.6,816.9 876.3,812.5 878,811C879.7,809.5 883.1,807.5 885,809C886.9,810.5 890.4,820.7 892,822C893.6,823.3 895.7,817.4 897,819C898.3,820.6 900.9,830.1 902,834C903.1,837.9 904.1,845.3 905,848C905.9,850.7 908.2,849.7 909,854C909.8,858.3 910.5,872.5 911,880C911.5,887.5 912.5,900.7 913,910C913.5,919.3 914.5,939.3 915,950C915.5,960.7 916.3,981.5 917,990C917.7,998.5 919.2,1014.0 920,1014C920.8,1014.0 922.2,999.9 923,990C923.8,980.1 925.2,952.0 926,940C926.8,928.0 928.1,908.0 929,900C929.9,892.0 931.9,885.3 933,880C934.1,874.7 935.8,864.7 937,860C938.2,855.3 940.8,846.3 942,845C943.2,843.7 945.2,845.3 946,850C946.8,854.7 947.4,870.7 948,880C948.6,889.3 949.7,910.1 950.4,920C951.1,929.9 952.9,952.7 953.6,954C954.3,955.3 955.4,938.5 956,930C956.6,921.5 957.3,902.0 958,890C958.7,878.0 960.1,849.6 961,840C961.9,830.4 963.8,822.8 965,818C966.2,813.2 968.3,806.9 970,804C971.7,801.1 975.6,797.2 978,796C980.4,794.8 985.9,794.5 988,795C990.1,795.5 992.8,796.7 994,800C995.2,803.3 996.3,812.0 997,820C997.7,828.0 998.5,848.0 999,860C999.5,872.0 1000.5,896.7 1001,910C1001.5,923.3 1002.4,946.9 1003,960C1003.6,973.1 1004.9,1008.0 1005.6,1008C1006.3,1008.0 1007.3,973.1 1008,960C1008.7,946.9 1010.2,922.0 1011,910C1011.8,898.0 1013.1,879.6 1014,870C1014.9,860.4 1016.8,844.0 1018,838C1019.2,832.0 1021.7,825.5 1023,825C1024.3,824.5 1026.9,828.0 1028,834C1029.1,840.0 1030.3,858.5 1031,870C1031.7,881.5 1032.5,905.3 1033,920C1033.5,934.7 1034.5,965.3 1035,980C1035.5,994.7 1036.5,1018.0 1037,1030C1037.5,1042.0 1038.5,1060.7 1039,1070C1039.5,1079.3 1040.5,1093.9 1041,1100C1041.5,1106.1 1042.2,1116.0 1043,1116C1043.8,1116.0 1045.8,1105.1 1047,1100C1048.2,1094.9 1050.8,1084.7 1052,1078C1053.2,1071.3 1054.9,1059.1 1056,1050C1057.1,1040.9 1058.9,1018.5 1060,1010C1061.1,1001.5 1063.1,990.0 1064,986C1064.9,982.0 1066.2,978.1 1067,980C1067.8,981.9 1069.2,995.7 1070,1000C1070.8,1004.3 1072.2,1012.5 1073,1012C1073.8,1011.5 1075.1,1001.1 1076,996C1076.9,990.9 1078.9,978.1 1080,974C1081.1,969.9 1082.9,964.2 1084,965C1085.1,965.8 1087.2,974.0 1088,980C1088.8,986.0 1089.5,1002.0 1090,1010C1090.5,1018.0 1091.3,1030.9 1092,1040C1092.7,1049.1 1094.1,1076.7 1095,1078C1095.9,1079.3 1098.1,1056.4 1099,1050C1099.9,1043.6 1101.1,1032.9 1102,1030C1102.9,1027.1 1105.2,1032.0 1106,1028C1106.8,1024.0 1107.5,1009.1 1108,1000C1108.5,990.9 1109.3,970.7 1110,960C1110.7,949.3 1112.2,929.3 1113,920C1113.8,910.7 1115.1,895.3 1116,890C1116.9,884.7 1118.9,880.0 1120,880C1121.1,880.0 1123.2,884.7 1124,890C1124.8,895.3 1125.3,910.7 1126,920C1126.7,929.3 1128.3,948.0 1129,960C1129.7,972.0 1130.5,998.0 1131,1010C1131.5,1022.0 1132.3,1038.3 1133,1050C1133.7,1061.7 1135.2,1095.3 1136,1098C1136.8,1100.7 1138.3,1079.1 1139,1070C1139.7,1060.9 1140.5,1042.0 1141,1030C1141.5,1018.0 1142.3,993.3 1143,980C1143.7,966.7 1145.3,940.7 1146,930C1146.7,919.3 1147.3,905.3 1148,900C1148.7,894.7 1150.2,888.7 1151,890C1151.8,891.3 1153.3,902.0 1154,910C1154.7,918.0 1155.5,938.0 1156,950C1156.5,962.0 1157.5,988.0 1158,1000C1158.5,1012.0 1159.2,1030.7 1160,1040C1160.8,1049.3 1163.1,1066.3 1164,1070C1164.9,1073.7 1166.1,1072.0 1167,1068C1167.9,1064.0 1169.9,1049.1 1171,1040C1172.1,1030.9 1174.1,1010.7 1175,1000C1175.9,989.3 1177.2,969.3 1178,960C1178.8,950.7 1180.2,936.7 1181,930C1181.8,923.3 1183.1,915.3 1184,910C1184.9,904.7 1186.9,893.3 1188,890C1189.1,886.7 1190.9,884.2 1192,885C1193.1,885.8 1195.1,888.7 1196,896C1196.9,903.3 1198.2,936.8 1199,940C1199.8,943.2 1201.2,926.7 1202,920C1202.8,913.3 1204.2,896.4 1205,890C1205.8,883.6 1207.1,875.5 1208,872C1208.9,868.5 1210.7,865.9 1212,864C1213.3,862.1 1215.9,859.9 1218,858C1220.1,856.1 1225.1,852.1 1228,850C1230.9,847.9 1236.8,844.3 1240,842C1243.2,839.7 1249.3,834.1 1252,833C1254.7,831.9 1258.7,833.3 1260,834C1261.3,834.7 1261.2,839.1 1262,838C1262.8,836.9 1264.9,828.0 1266,826C1267.1,824.0 1268.9,822.7 1270,823C1271.1,823.3 1272.9,826.0 1274,828C1275.1,830.0 1276.9,837.7 1278,838C1279.1,838.3 1280.9,831.3 1282,830C1283.1,828.7 1285.1,826.7 1286,828C1286.9,829.3 1288.2,834.4 1289,840C1289.8,845.6 1291.2,860.7 1292,870C1292.8,879.3 1294.3,900.4 1295,910C1295.7,919.6 1296.9,940.7 1297.6,942C1298.3,943.3 1299.3,928.3 1300,920C1300.7,911.7 1302.2,889.9 1303,880C1303.8,870.1 1305.1,852.9 1306,846C1306.9,839.1 1308.7,831.7 1310,828C1311.3,824.3 1314.3,819.9 1316,818C1317.7,816.1 1321.3,813.5 1323,814C1324.7,814.5 1327.8,818.5 1329,822C1330.2,825.5 1331.3,833.6 1332,840C1332.7,846.4 1333.5,860.7 1334,870C1334.5,879.3 1335.5,897.7 1336,910C1336.5,922.3 1337.2,962.0 1338,962C1338.8,962.0 1341.1,921.7 1342,910C1342.9,898.3 1344.1,880.5 1345,874C1345.9,867.5 1347.9,860.3 1349,861C1350.1,861.7 1352.2,871.1 1353,879C1353.8,886.9 1354.5,908.5 1355,920C1355.5,931.5 1356.5,955.1 1357,965C1357.5,974.9 1357.9,994.7 1358.4,994C1358.9,993.3 1360.4,969.9 1361,960C1361.6,950.1 1362.5,930.7 1363,920C1363.5,909.3 1364.3,890.3 1365,880C1365.7,869.7 1366.9,849.9 1368,843C1369.1,836.1 1371.3,831.1 1373,828C1374.7,824.9 1378.9,821.6 1381,820C1383.1,818.4 1387.3,815.7 1389,816C1390.7,816.3 1392.9,818.7 1394,822C1395.1,825.3 1396.2,835.9 1397,841C1397.8,846.1 1399.1,854.8 1400,860C1400.9,865.2 1402.9,880.0 1404,880C1405.1,880.0 1407.1,866.7 1408,860C1408.9,853.3 1409.9,835.3 1411,830C1412.1,824.7 1414.4,821.9 1416,820C1417.6,818.1 1421.3,815.7 1423,816C1424.7,816.3 1427.7,818.8 1429,822C1430.3,825.2 1432.1,833.6 1433,840C1433.9,846.4 1435.3,860.7 1436,870C1436.7,879.3 1437.5,898.0 1438,910C1438.5,922.0 1439.5,946.7 1440,960C1440.5,973.3 1441.5,996.7 1442,1010C1442.5,1023.3 1443.5,1048.0 1444,1060C1444.5,1072.0 1445.1,1100.0 1445.6,1100C1446.1,1100.0 1447.4,1070.7 1448,1060C1448.6,1049.3 1449.6,1029.3 1450,1020C1450.4,1010.7 1450.7,1000.7 1451,990C1451.3,979.3 1451.6,952.0 1452,940C1452.4,928.0 1453.5,910.7 1454,900C1454.5,889.3 1455.2,868.5 1456,860C1456.8,851.5 1458.7,840.7 1460,836C1461.3,831.3 1464.4,825.5 1466,825C1467.6,824.5 1470.9,827.3 1472,832C1473.1,836.7 1473.5,850.9 1474,860C1474.5,869.1 1475.6,889.3 1476,900C1476.4,910.7 1476.6,928.0 1477,940C1477.4,952.0 1478.5,976.7 1479,990C1479.5,1003.3 1480.6,1026.8 1481,1040C1481.4,1053.2 1481.6,1087.7 1482,1089C1482.4,1090.3 1483.5,1060.5 1484,1050C1484.5,1039.5 1485.6,1022.0 1486,1010C1486.4,998.0 1486.6,972.0 1487,960C1487.4,948.0 1488.5,930.7 1489,920C1489.5,909.3 1490.3,888.8 1491,880C1491.7,871.2 1493.1,859.1 1494,854C1494.9,848.9 1496.7,844.9 1498,842C1499.3,839.1 1502.4,834.4 1504,832C1505.6,829.6 1508.3,825.3 1510,824C1511.7,822.7 1515.5,821.2 1517,822C1518.5,822.8 1520.2,824.9 1521,830C1521.8,835.1 1522.5,850.7 1523,860C1523.5,869.3 1524.5,890.1 1525,900C1525.5,909.9 1526.5,932.7 1527,934C1527.5,935.3 1528.5,917.2 1529,910C1529.5,902.8 1530.3,889.1 1531,880C1531.7,870.9 1533.1,848.9 1534,842C1534.9,835.1 1536.4,830.7 1538,828C1539.6,825.3 1543.6,823.9 1546,822C1548.4,820.1 1553.3,815.9 1556,814C1558.7,812.1 1563.5,809.2 1566,808C1568.5,806.8 1573.8,805.4 1575,805"/>
<path stroke="#d8403f" d="M160,1067C161.9,1067.9 170.0,1071.5 174,1074C178.0,1076.5 185.2,1082.3 190,1086C194.8,1089.7 205.2,1098.3 210,1102C214.8,1105.7 221.5,1110.8 226,1114C230.5,1117.2 239.5,1122.7 244,1126C248.5,1129.3 256.3,1136.6 260,1139C263.7,1141.4 268.0,1142.9 272,1144C276.0,1145.1 286.3,1145.9 290,1147C293.7,1148.1 296.5,1151.3 300,1152C303.5,1152.7 312.8,1152.4 316,1152C319.2,1151.6 321.3,1149.4 324,1149C326.7,1148.6 333.6,1148.3 336,1149C338.4,1149.7 340.4,1152.4 342,1154C343.6,1155.6 346.4,1159.8 348,1161C349.6,1162.2 352.1,1163.1 354,1163C355.9,1162.9 359.9,1160.3 362,1160C364.1,1159.7 368.1,1160.6 370,1161C371.9,1161.4 374.1,1162.9 376,1163C377.9,1163.1 381.7,1163.1 384,1162C386.3,1160.9 391.0,1155.4 393,1155C395.0,1154.6 397.7,1156.7 399,1159C400.3,1161.3 401.8,1168.9 403,1172C404.2,1175.1 406.8,1182.0 408,1182C409.2,1182.0 410.9,1173.9 412,1172C413.1,1170.1 414.9,1167.2 416,1168C417.1,1168.8 418.9,1174.3 420,1178C421.1,1181.7 423.1,1189.9 424,1196C424.9,1202.1 426.2,1216.8 427,1224C427.8,1231.2 429.3,1241.2 430,1250C430.7,1258.8 431.5,1280.7 432,1290C432.5,1299.3 433.3,1311.7 434,1320C434.7,1328.3 436.7,1350.7 437.6,1352C438.5,1353.3 440.1,1336.9 441,1330C441.9,1323.1 443.3,1309.3 444,1300C444.7,1290.7 445.5,1268.5 446,1260C446.5,1251.5 447.2,1242.4 448,1236C448.8,1229.6 450.9,1217.3 452,1212C453.1,1206.7 454.8,1199.6 456,1196C457.2,1192.4 459.8,1185.5 461,1185C462.2,1184.5 463.9,1188.4 465,1192C466.1,1195.6 467.9,1206.4 469,1212C470.1,1217.6 472.1,1230.3 473,1234C473.9,1237.7 475.1,1241.3 476,1240C476.9,1238.7 478.9,1228.8 480,1224C481.1,1219.2 482.8,1209.3 484,1204C485.2,1198.7 487.7,1188.5 489,1184C490.3,1179.5 492.8,1173.3 494,1170C495.2,1166.7 496.7,1161.5 498,1159C499.3,1156.5 502.1,1152.9 504,1151C505.9,1149.1 510.1,1146.3 512,1145C513.9,1143.7 516.4,1141.3 518,1141C519.6,1140.7 522.3,1142.6 524,1143C525.7,1143.4 529.3,1145.3 531,1144C532.7,1142.7 535.0,1136.6 537,1133C539.0,1129.4 543.7,1120.3 546,1117C548.3,1113.7 551.6,1110.0 554,1108C556.4,1106.0 561.1,1103.6 564,1102C566.9,1100.4 573.1,1097.3 576,1096C578.9,1094.7 583.7,1093.1 586,1092C588.3,1090.9 592.1,1088.5 593,1088"/>
<path stroke="#d8403f" d="M619,1099C620.1,1099.8 625.3,1102.9 627,1105C628.7,1107.1 631.1,1111.0 632,1115C632.9,1119.0 633.5,1128.3 634,1135C634.5,1141.7 635.5,1157.0 636,1165C636.5,1173.0 637.3,1185.7 638,1195C638.7,1204.3 640.3,1224.3 641,1235C641.7,1245.7 642.3,1264.3 643,1275C643.7,1285.7 645.2,1304.3 646,1315C646.8,1325.7 648.2,1345.0 649,1355C649.8,1365.0 651.1,1382.4 652,1390C652.9,1397.6 655.1,1412.0 656,1412C656.9,1412.0 658.2,1398.3 659,1390C659.8,1381.7 661.2,1362.0 662,1350C662.8,1338.0 664.2,1312.7 665,1300C665.8,1287.3 667.2,1265.8 668,1255C668.8,1244.2 670.2,1227.5 671,1219C671.8,1210.5 673.1,1197.4 674,1191C674.9,1184.6 676.8,1175.8 678,1171C679.2,1166.2 681.7,1159.3 683,1155C684.3,1150.7 686.5,1141.9 688,1139C689.5,1136.1 692.1,1133.7 694,1133C695.9,1132.3 700.4,1131.6 702,1134C703.6,1136.4 705.1,1146.1 706,1151C706.9,1155.9 708.3,1165.7 709,1171C709.7,1176.3 710.9,1191.0 711.6,1191C712.3,1191.0 713.1,1177.9 714,1171C714.9,1164.1 716.4,1145.7 718,1139C719.6,1132.3 723.9,1124.7 726,1121C728.1,1117.3 731.9,1113.3 734,1111C736.1,1108.7 739.5,1105.1 742,1104C744.5,1102.9 751.1,1100.2 753,1103C754.9,1105.8 755.3,1118.1 756,1125C756.7,1131.9 757.3,1147.8 758,1155C758.7,1162.2 760.3,1173.9 761,1179C761.7,1184.1 762.3,1194.9 763,1193C763.7,1191.1 765.2,1172.7 766,1165C766.8,1157.3 767.7,1140.9 769,1135C770.3,1129.1 774.1,1124.5 776,1121C777.9,1117.5 780.9,1111.4 783,1109C785.1,1106.6 789.7,1103.3 792,1103C794.3,1102.7 798.4,1105.1 800,1107C801.6,1108.9 802.7,1114.9 804,1117C805.3,1119.1 808.8,1120.6 810,1123C811.2,1125.4 812.3,1129.4 813,1135C813.7,1140.6 814.5,1155.7 815,1165C815.5,1174.3 816.5,1193.0 817,1205C817.5,1217.0 818.5,1243.0 819,1255C819.5,1267.0 820.5,1284.3 821,1295C821.5,1305.7 822.5,1326.6 823,1335C823.5,1343.4 824.5,1360.0 825,1358C825.5,1356.0 826.3,1328.4 827,1320C827.7,1311.6 829.2,1302.6 830,1295C830.8,1287.4 832.2,1265.7 833,1263C833.8,1260.3 835.2,1268.1 836,1275C836.8,1281.9 838.2,1304.3 839,1315C839.8,1325.7 841.2,1345.3 842,1355C842.8,1364.7 844.1,1388.0 845,1388C845.9,1388.0 848.1,1366.1 849,1355C849.9,1343.9 851.2,1318.3 852,1305C852.8,1291.7 854.2,1267.0 855,1255C855.8,1243.0 857.1,1224.6 858,1215C858.9,1205.4 860.7,1189.4 862,1183C863.3,1176.6 866.0,1169.9 868,1167C870.0,1164.1 874.7,1161.0 877,1161C879.3,1161.0 883.3,1164.1 885,1167C886.7,1169.9 888.8,1178.5 890,1183C891.2,1187.5 892.8,1199.7 894,1201C895.2,1202.3 897.8,1191.1 899,1193C900.2,1194.9 902.1,1209.7 903,1215C903.9,1220.3 905.2,1234.6 906,1233C906.8,1231.4 908.2,1207.8 909,1203C909.8,1198.2 911.1,1194.9 912,1197C912.9,1199.1 915.1,1211.3 916,1219C916.9,1226.7 918.3,1243.5 919,1255C919.7,1266.5 920.4,1293.0 921,1305C921.6,1317.0 922.9,1337.9 923.6,1345C924.3,1352.1 925.3,1358.5 926,1358C926.7,1357.5 927.9,1346.7 929,1341C930.1,1335.3 932.9,1322.5 934,1315C935.1,1307.5 936.2,1294.3 937,1285C937.8,1275.7 939.2,1255.7 940,1245C940.8,1234.3 942.2,1214.3 943,1205C943.8,1195.7 945.0,1180.6 946,1175C947.0,1169.4 949.3,1163.0 950.4,1163C951.5,1163.0 953.1,1169.4 954,1175C954.9,1180.6 956.2,1197.0 957,1205C957.8,1213.0 959.2,1233.7 960,1235C960.8,1236.3 962.2,1221.7 963,1215C963.8,1208.3 965.1,1193.5 966,1185C966.9,1176.5 968.8,1159.0 970,1151C971.2,1143.0 973.4,1130.1 975,1125C976.6,1119.9 980.3,1114.9 982,1113C983.7,1111.1 986.4,1110.2 988,1111C989.6,1111.8 992.8,1114.5 994,1119C995.2,1123.5 996.3,1136.2 997,1145C997.7,1153.8 998.4,1173.0 999,1185C999.6,1197.0 1000.9,1223.0 1001.6,1235C1002.3,1247.0 1003.2,1265.3 1004,1275C1004.8,1284.7 1006.7,1308.0 1007.6,1308C1008.5,1308.0 1010.3,1286.1 1011,1275C1011.7,1263.9 1012.5,1238.3 1013,1225C1013.5,1211.7 1014.3,1185.9 1015,1175C1015.7,1164.1 1017.2,1148.5 1018,1143C1018.8,1137.5 1020.1,1134.0 1021,1134C1021.9,1134.0 1023.9,1138.9 1025,1143C1026.1,1147.1 1027.9,1158.1 1029,1165C1030.1,1171.9 1032.1,1187.0 1033,1195C1033.9,1203.0 1035.2,1215.7 1036,1225C1036.8,1234.3 1038.2,1254.3 1039,1265C1039.8,1275.7 1041.2,1294.3 1042,1305C1042.8,1315.7 1044.1,1334.3 1045,1345C1045.9,1355.7 1047.9,1376.2 1049,1385C1050.1,1393.8 1051.9,1406.5 1053,1411C1054.1,1415.5 1056.1,1421.1 1057,1419C1057.9,1416.9 1059.2,1402.2 1060,1395C1060.8,1387.8 1062.2,1372.5 1063,1365C1063.8,1357.5 1065.1,1343.5 1066,1339C1066.9,1334.5 1068.9,1330.2 1070,1331C1071.1,1331.8 1072.9,1345.8 1074,1345C1075.1,1344.2 1077.1,1333.0 1078,1325C1078.9,1317.0 1080.2,1294.3 1081,1285C1081.8,1275.7 1083.2,1255.0 1084,1255C1084.8,1255.0 1086.3,1274.3 1087,1285C1087.7,1295.7 1088.5,1323.0 1089,1335C1089.5,1347.0 1090.3,1363.5 1091,1375C1091.7,1386.5 1093.2,1418.3 1094,1421C1094.8,1423.7 1096.2,1402.5 1097,1395C1097.8,1387.5 1098.9,1369.8 1100,1365C1101.1,1360.2 1103.9,1361.7 1105,1359C1106.1,1356.3 1107.2,1352.2 1108,1345C1108.8,1337.8 1110.2,1317.0 1111,1305C1111.8,1293.0 1113.1,1267.0 1114,1255C1114.9,1243.0 1116.9,1223.0 1118,1215C1119.1,1207.0 1121.3,1196.3 1122.4,1195C1123.5,1193.7 1125.1,1198.3 1126,1205C1126.9,1211.7 1128.3,1234.3 1129,1245C1129.7,1255.7 1130.5,1273.0 1131,1285C1131.5,1297.0 1132.5,1321.7 1133,1335C1133.5,1348.3 1134.3,1373.8 1135,1385C1135.7,1396.2 1137.2,1417.1 1138,1419C1138.8,1420.9 1140.3,1407.5 1141,1399C1141.7,1390.5 1142.5,1367.5 1143,1355C1143.5,1342.5 1144.3,1317.0 1145,1305C1145.7,1293.0 1147.1,1273.0 1148,1265C1148.9,1257.0 1150.9,1249.0 1152,1245C1153.1,1241.0 1155.4,1235.0 1156.6,1235C1157.8,1235.0 1160.0,1238.3 1161,1245C1162.0,1251.7 1163.2,1274.3 1164,1285C1164.8,1295.7 1166.2,1314.3 1167,1325C1167.8,1335.7 1169.2,1355.1 1170,1365C1170.8,1374.9 1172.3,1392.6 1173,1399C1173.7,1405.4 1174.8,1413.5 1175.6,1413C1176.4,1412.5 1178.1,1402.7 1179,1395C1179.9,1387.3 1181.2,1365.7 1182,1355C1182.8,1344.3 1184.2,1324.3 1185,1315C1185.8,1305.7 1187.1,1291.9 1188,1285C1188.9,1278.1 1190.9,1264.6 1192,1263C1193.1,1261.4 1194.9,1270.3 1196,1273C1197.1,1275.7 1199.1,1285.4 1200,1283C1200.9,1280.6 1202.2,1263.5 1203,1255C1203.8,1246.5 1205.1,1227.0 1206,1219C1206.9,1211.0 1208.7,1200.3 1210,1195C1211.3,1189.7 1214.1,1182.5 1216,1179C1217.9,1175.5 1221.7,1171.4 1224,1169C1226.3,1166.6 1230.3,1162.3 1233,1161C1235.7,1159.7 1241.5,1159.9 1244,1159C1246.5,1158.1 1249.9,1154.7 1252,1154C1254.1,1153.3 1258.0,1153.5 1260,1154C1262.0,1154.5 1265.4,1158.7 1267,1158C1268.6,1157.3 1269.9,1150.9 1272,1149C1274.1,1147.1 1280.7,1143.7 1283,1144C1285.3,1144.3 1287.7,1147.9 1289,1151C1290.3,1154.1 1291.9,1162.2 1293,1167C1294.1,1171.8 1295.9,1183.3 1297,1187C1298.1,1190.7 1299.9,1195.8 1301,1195C1302.1,1194.2 1303.9,1185.0 1305,1181C1306.1,1177.0 1307.4,1168.2 1309,1165C1310.6,1161.8 1315.0,1157.3 1317,1157C1319.0,1156.7 1322.3,1161.1 1324,1163C1325.7,1164.9 1328.7,1168.9 1330,1171C1331.3,1173.1 1333.2,1174.5 1334,1179C1334.8,1183.5 1335.5,1196.2 1336,1205C1336.5,1213.8 1337.5,1234.3 1338,1245C1338.5,1255.7 1339.5,1275.5 1340,1285C1340.5,1294.5 1341.3,1316.0 1342,1316C1342.7,1316.0 1344.2,1292.3 1345,1285C1345.8,1277.7 1347.1,1264.5 1348,1261C1348.9,1257.5 1351.2,1261.1 1352,1259C1352.8,1256.9 1353.5,1250.9 1354,1245C1354.5,1239.1 1355.2,1221.4 1356,1215C1356.8,1208.6 1358.7,1199.9 1360,1197C1361.3,1194.1 1364.7,1195.1 1366,1193C1367.3,1190.9 1368.7,1184.2 1370,1181C1371.3,1177.8 1374.4,1171.4 1376,1169C1377.6,1166.6 1380.3,1164.1 1382,1163C1383.7,1161.9 1387.5,1159.9 1389,1161C1390.5,1162.1 1392.1,1167.0 1393,1171C1393.9,1175.0 1394.9,1187.3 1396,1191C1397.1,1194.7 1399.7,1196.2 1401,1199C1402.3,1201.8 1404.9,1212.5 1406,1212C1407.1,1211.5 1408.2,1201.0 1409,1195C1409.8,1189.0 1410.8,1172.9 1412,1167C1413.2,1161.1 1416.4,1153.8 1418,1151C1419.6,1148.2 1422.7,1144.9 1424,1146C1425.3,1147.1 1427.1,1152.5 1428,1159C1428.9,1165.5 1430.3,1184.9 1431,1195C1431.7,1205.1 1432.6,1224.3 1433,1235C1433.4,1245.7 1433.7,1263.0 1434,1275C1434.3,1287.0 1434.6,1313.0 1435,1325C1435.4,1337.0 1436.3,1351.5 1437,1365C1437.7,1378.5 1438.9,1426.0 1440,1426C1441.1,1426.0 1444.1,1379.8 1445,1365C1445.9,1350.2 1446.5,1327.0 1447,1315C1447.5,1303.0 1448.3,1284.3 1449,1275C1449.7,1265.7 1451.1,1252.5 1452,1245C1452.9,1237.5 1454.7,1224.9 1456,1219C1457.3,1213.1 1460.4,1201.0 1461.6,1201C1462.8,1201.0 1464.3,1211.8 1465,1219C1465.7,1226.2 1466.3,1246.2 1467,1255C1467.7,1263.8 1469.2,1277.0 1470,1285C1470.8,1293.0 1472.1,1304.7 1473,1315C1473.9,1325.3 1475.7,1359.3 1476.6,1362C1477.5,1364.7 1479.0,1342.6 1480,1335C1481.0,1327.4 1482.9,1313.0 1484,1305C1485.1,1297.0 1487.1,1283.0 1488,1275C1488.9,1267.0 1490.2,1252.5 1491,1245C1491.8,1237.5 1493.1,1225.1 1494,1219C1494.9,1212.9 1496.8,1203.3 1498,1199C1499.2,1194.7 1501.7,1188.9 1503,1187C1504.3,1185.1 1506.7,1183.9 1508,1185C1509.3,1186.1 1511.8,1193.7 1513,1195C1514.2,1196.3 1516.1,1196.6 1517,1195C1517.9,1193.4 1519.2,1186.2 1520,1183C1520.8,1179.8 1522.3,1171.0 1523,1171C1523.7,1171.0 1525.1,1175.8 1525.6,1183C1526.1,1190.2 1526.6,1212.7 1527,1225C1527.4,1237.3 1527.9,1261.9 1528.4,1275C1528.9,1288.1 1529.8,1319.0 1530.4,1323C1531.0,1327.0 1532.4,1314.1 1533,1305C1533.6,1295.9 1534.5,1265.7 1535,1255C1535.5,1244.3 1536.3,1233.0 1537,1225C1537.7,1217.0 1538.9,1201.4 1540,1195C1541.1,1188.6 1543.4,1180.2 1545,1177C1546.6,1173.8 1550.3,1172.6 1552,1171C1553.7,1169.4 1556.4,1166.9 1558,1165C1559.6,1163.1 1561.7,1159.4 1564,1157C1566.3,1154.6 1573.5,1148.3 1575,1147"/>
</g>
<g stroke="#000" stroke-width="5.5" fill="none" stroke-linecap="butt">
<line x1="157.25" y1="46" x2="594" y2="46"/>
<line x1="618" y1="46" x2="1579.75" y2="46"/>
<line x1="157.25" y1="1463" x2="594" y2="1463"/>
<line x1="619" y1="1463" x2="1579.75" y2="1463"/>
<line x1="160" y1="43.25" x2="160" y2="1531"/>
<line x1="1577" y1="43.25" x2="1577" y2="1531"/>
<line x1="420" y1="1463" x2="420" y2="1531"/>
<line x1="793" y1="1463" x2="793" y2="1531"/>
<line x1="1054.5" y1="1463" x2="1054.5" y2="1531"/>
<line x1="1315.5" y1="1463" x2="1315.5" y2="1531"/>
<line x1="290.5" y1="1463" x2="290.5" y2="1496"/>
<line x1="550" y1="1463" x2="550" y2="1496"/>
<line x1="662" y1="1463" x2="662" y2="1496"/>
<line x1="924" y1="1463" x2="924" y2="1496"/>
<line x1="1185" y1="1463" x2="1185" y2="1496"/>
<line x1="1446" y1="1463" x2="1446" y2="1496"/>
</g>
<g stroke="#000" stroke-width="4.2" stroke-linecap="butt">
<line x1="582" y1="22" x2="605" y2="71"/><line x1="607" y1="22" x2="630" y2="71"/>
<line x1="583" y1="1437" x2="606" y2="1486"/><line x1="608" y1="1437" x2="631" y2="1486"/>
</g>
<g font-size="84" text-anchor="middle">
<text transform="translate(159,1607) scale(1,1.04)">3300</text>
<text transform="translate(420,1607) scale(1,1.04)">3000</text>
<text transform="translate(795,1607) scale(1,1.04)">1500</text>
<text transform="translate(1055,1607) scale(1,1.04)">1200</text>
<text transform="translate(1314,1607) scale(1,1.04)">900</text>
<text transform="translate(1576,1607) scale(1,1.04)">600</text>
</g>
<g font-size="84">
<text transform="translate(170.7,313) scale(0.94,1)">a</text>
<text x="173" y="565">b</text>
<text x="173" y="837">c</text>
<text x="176" y="1173">d</text>
</g>
<text font-size="84" transform="translate(94,1032) rotate(-90)">Intensity (a. u.)</text>
<text font-size="84" x="487.5" y="1716" letter-spacing="0.7">Wavenumber</text>
<text font-size="84" x="1015" y="1716">(cm</text>
<text font-size="54" x="1156.5" y="1681.2">–</text>
<text font-size="56" x="1191" y="1681">1</text>
<text font-size="84" x="1223" y="1716">)</text>
</svg></body></html>
